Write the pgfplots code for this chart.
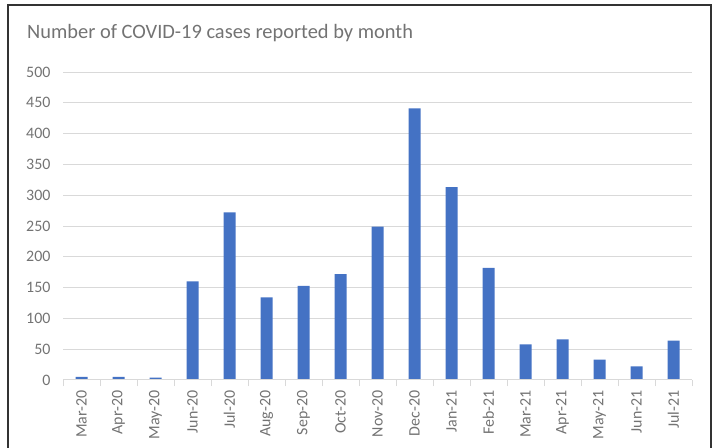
\documentclass[border=0pt]{standalone}
\usepackage{fontspec}
\setmainfont{Carlito}
\usepackage{pgfplots}
\pgfplotsset{compat=1.18}
\definecolor{barblue}{HTML}{4472C4}
\definecolor{gridgray}{HTML}{D9D9D9}
\definecolor{textgray}{HTML}{737373}
\begin{document}
\begin{tikzpicture}
\useasboundingbox (0bp,0bp) rectangle (718bp,448bp);
\draw[line width=1.5bp, black!80] (8bp,-20bp) rectangle (711bp,443bp);
\node[anchor=west, text=textgray, font=\fontsize{20.5}{23}\selectfont, inner sep=0pt]
  at (27bp,415bp) {Number of COVID-19 cases reported by month};
\begin{axis}[
    at={(63bp,68bp)}, anchor=south west,
    scale only axis,
    width=629bp, height=308bp,
    xmin=-0.5, xmax=16.5,
    ymin=0, ymax=500,
    ytick={0,50,...,500},
    xtick={0,...,16},
    xticklabels={Mar-20,Apr-20,May-20,Jun-20,Jul-20,Aug-20,Sep-20,Oct-20,Nov-20,Dec-20,Jan-21,Feb-21,Mar-21,Apr-21,May-21,Jun-21,Jul-21},
    minor xtick={-0.5,0.5,...,16.5},
    xtick pos=bottom, ytick pos=left,
    major tick length=0pt,
    minor tick length=6bp,
    xtick align=outside,
    minor tick style={gridgray, line width=1bp},
    axis line style={draw=none},
    ymajorgrids,
    grid style={gridgray, line width=1bp},
    tick label style={text=textgray, font=\fontsize{16}{18}\selectfont},
    /pgf/number format/assume math mode=true,
    yticklabel style={xshift=-9bp},
    xticklabel style={rotate=90, anchor=east, xshift=-7bp},
    ybar, bar width=12bp,
    clip=false,
]
\addplot[fill=barblue, draw=none] coordinates {
(0,5) (1,5) (2,4) (3,160) (4,272) (5,134) (6,153) (7,172) (8,249)
(9,441) (10,313) (11,182) (12,58) (13,66) (14,33) (15,22) (16,64)
};
\draw[gridgray, line width=1bp] (axis cs:-0.5,0) -- (axis cs:16.5,0);
\end{axis}
\end{tikzpicture}
\end{document}
